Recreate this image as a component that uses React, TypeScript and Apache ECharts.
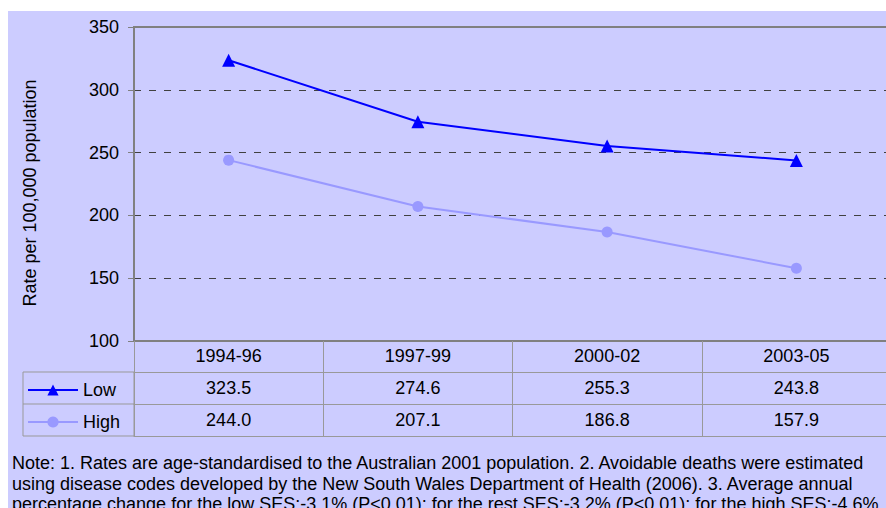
import React, { useEffect, useRef } from "react";
import * as echarts from "echarts";

const categories = ["1994-96", "1997-99", "2000-02", "2003-05"];
const lowValues = [323.5, 274.6, 255.3, 243.8];
const highValues = [244.0, 207.1, 186.8, 157.9];
const seriesNames = ["Low", "High"];
const yMin = 100;
const yMax = 350;
const yInterval = 50;
const yAxisTitle = "Rate per 100,000 population";
const noteLines = [
  "Note: 1. Rates are age-standardised to the Australian 2001 population. 2. Avoidable deaths were estimated",
  "using disease codes developed by the New South Wales Department of Health (2006). 3. Average annual",
  "percentage change for the low SES:-3.1% (P<0.01); for the rest SES:-3.2% (P<0.01); for the high SES:-4.6%",
];

const FONT = "'Liberation Sans', Arial, sans-serif";
const FS = 18;
const GRID_BORDER = "#808080";
const TABLE_LINE = "#999999";

export default function App() {
  const ref = useRef<HTMLDivElement>(null);

  useEffect(() => {
    document.body.style.margin = "0";
    if (!ref.current) return;
    const chart = echarts.init(ref.current, null, { renderer: "svg" });

    const rowAxis = (offset: number, values: number[] | null, tickLen: number, showTick: boolean) => ({
      type: "category",
      data: categories,
      position: "bottom",
      offset,
      axisLine: { show: true, lineStyle: { color: TABLE_LINE, width: 1 } },
      axisTick: { show: showTick, length: tickLen, interval: 0, lineStyle: { color: TABLE_LINE, width: 1 } },
      axisLabel: {
        show: values !== null,
        interval: 0,
        margin: 7,
        fontSize: FS,
        color: "#000",
        fontFamily: FONT,
        formatter: (_v: string, i: number) => (values ? values[i].toFixed(1) : ""),
      },
      splitLine: { show: false },
    });

    chart.setOption({
      animation: false,
      textStyle: { fontFamily: FONT },
      grid: {
        left: 126,
        top: 16,
        right: 17,
        bottom: 167,
        show: true,
        borderColor: GRID_BORDER,
        borderWidth: 2,
        backgroundColor: "transparent",
      },
      legend: seriesNames.map((name, i) => ({
        data: [name],
        orient: "horizontal",
        left: 19,
        top: 370 + i * 32,
        itemWidth: 50,
        itemHeight: 14,
        itemGap: 5,
        padding: 0,
        textStyle: { fontSize: FS, color: "#000", fontFamily: FONT },
        selectedMode: false,
      })),
      xAxis: [
        {
          type: "category",
          data: categories,
          position: "bottom",
          axisLine: { show: true, lineStyle: { color: GRID_BORDER, width: 2 } },
          axisTick: { show: true, length: 31, interval: 0, lineStyle: { color: TABLE_LINE, width: 1 } },
          axisLabel: { interval: 0, margin: 6, fontSize: FS, color: "#000", fontFamily: FONT },
          splitLine: { show: false },
        },
        rowAxis(31, lowValues, 32, true),
        rowAxis(63, highValues, 32, true),
        rowAxis(95, null, 0, false),
      ],
      yAxis: {
        type: "value",
        min: yMin,
        max: yMax,
        interval: yInterval,
        name: yAxisTitle,
        nameLocation: "middle",
        nameRotate: 90,
        nameGap: 95,
        nameTextStyle: { fontSize: FS, color: "#000", fontFamily: FONT, padding: [0, 18, 0, 0] },
        axisLine: { show: true, lineStyle: { color: GRID_BORDER, width: 2 } },
        axisTick: { show: true, length: 6, lineStyle: { color: GRID_BORDER, width: 1 } },
        axisLabel: { margin: 15, fontSize: FS, color: "#000", fontFamily: FONT },
        splitLine: {
          show: true,
          showMinLine: false,
          showMaxLine: false,
          lineStyle: { color: "#404040", width: 1, type: [7, 8] },
        },
      },
      series: [
        {
          name: seriesNames[0],
          type: "line",
          data: lowValues,
          symbol: "triangle",
          symbolSize: 13,
          color: "#0000FF",
          lineStyle: { color: "#0000FF", width: 2 },
          itemStyle: { color: "#0000FF" },
        },
        {
          name: seriesNames[1],
          type: "line",
          data: highValues,
          symbol: "circle",
          symbolSize: 11,
          color: "#9999FF",
          lineStyle: { color: "#9999FF", width: 2 },
          itemStyle: { color: "#9999FF" },
        },
      ],
      graphic: [
        {
          type: "rect",
          shape: { x: 15, y: 361, width: 111, height: 64 },
          style: { fill: "none", stroke: TABLE_LINE, lineWidth: 1 },
          silent: true,
        },
        {
          type: "line",
          shape: { x1: 15, y1: 393, x2: 126, y2: 393 },
          style: { stroke: TABLE_LINE, lineWidth: 1 },
          silent: true,
        },
        {
          type: "text",
          x: 4,
          y: 442,
          style: {
            text: noteLines.join("\n"),
            fontSize: FS,
            lineHeight: 20.5,
            fill: "#000",
            fontFamily: FONT,
            textVerticalAlign: "top",
          },
          silent: true,
        },
      ],
    });

    return () => chart.dispose();
  }, []);

  return (
    <div
      style={{
        marginLeft: 8,
        marginTop: 11,
        width: 878,
        height: 497,
        overflow: "hidden",
        background: "#CCCCFF",
      }}
    >
      <div ref={ref} style={{ width: 900, height: 497 }} />
    </div>
  );
}
